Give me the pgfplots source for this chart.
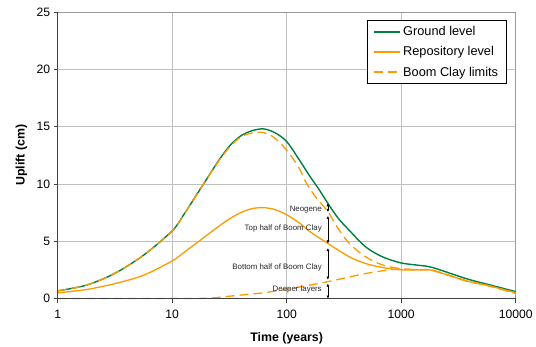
\documentclass[border=0pt]{standalone}
\usepackage{fontspec}
\setmainfont{Liberation Sans}
\usepackage{pgfplots}
\pgfplotsset{compat=1.18}
\usetikzlibrary{arrows.meta}
\definecolor{ground}{RGB}{0,128,64}
\definecolor{repo}{RGB}{255,153,0}
\definecolor{gridgray}{RGB}{192,192,192}
\definecolor{axdark}{RGB}{64,64,64}
\begin{document}
\begin{tikzpicture}
\begin{axis}[
  name=ax,
  scale only axis,
  width=458bp, height=286.5bp,
  xmode=log,
  xmin=1, xmax=10000, ymin=0, ymax=25,
  xtick={1,10,100,1000,10000},
  xticklabels={1,10,100,1000,10000},
  ytick={0,5,10,15,20,25},
  xminorticks=false, yminorticks=false,
  grid=major,
  major grid style={gridgray, line width=0.8bp},
  axis line style={draw=gridgray!80!black, line width=0.8bp},
  tick align=outside,
  xtick pos=bottom, ytick pos=left,
  major tick length=4bp,
  tick style={axdark, line width=0.8bp},
  /pgf/number format/assume math mode=true,
  tick label style={font=\fontsize{12.2}{14}\selectfont},
  xticklabel style={yshift=-4bp},
  label style={font=\bfseries\fontsize{12.4}{14}\selectfont},
  xlabel={Time (years)},
  ylabel={Uplift (cm)},
  xlabel style={at={(axis description cs:0.5,-0.14)}, anchor=center},
  ylabel style={at={(axis description cs:-0.079,0.5)}, anchor=center},
  clip=false,
  legend style={at={(0.98,0.972)}, anchor=north east, draw=black, line width=0.8bp,
    font=\fontsize{12.8}{14}\selectfont, row sep=5.5bp, inner xsep=6bp, inner ysep=4bp,
    cells={anchor=west}},
  legend image code/.code={\draw[#1] (0bp,0bp) -- (26bp,0bp);},
  legend image post style={line width=1.7bp},
]
\addplot[ground, line width=1.4bp, smooth] coordinates {
(1,0.67) (1.778,1.16) (3.162,2.2) (5.623,3.78) (10,5.9) (12.59,7.3) (15.85,8.85)
(19.95,10.4) (25.12,11.95) (31.62,13.3) (39.81,14.2) (50.12,14.65) (63.1,14.8)
(79.43,14.45) (100,13.7) (128.8,12.1) (158.5,10.7) (193.6,9.45) (229,8.3) (281.8,7.0)
(353.2,5.93) (489.8,4.5) (688.6,3.63) (1000,3.1) (1413,2.9) (1884,2.7) (3673,1.74)
(5623,1.25) (10000,0.6)};
\addlegendentry{Ground level}
\addplot[repo, line width=1.3bp, smooth] coordinates {
(1,0.49) (1.778,0.78) (3.162,1.3) (5.623,2.03) (10,3.28) (12.59,4.0) (15.85,4.75)
(19.95,5.5) (25.12,6.25) (31.62,6.95) (39.81,7.5) (50.12,7.85) (63.1,7.93) (79.43,7.75)
(100,7.3) (128.8,6.6) (158.5,5.85) (229,4.8) (353.2,3.63) (489.8,3.05) (688.6,2.7)
(1000,2.5) (1413,2.5) (1884,2.45) (3673,1.55) (5623,1.15) (10000,0.5)};
\addlegendentry{Repository level}
\addplot[repo, line width=1.3bp, dash pattern=on 9bp off 5bp, smooth] coordinates {
(1,0.67) (1.778,1.16) (3.162,2.2) (5.623,3.78) (10,5.9) (12.59,7.3) (15.85,8.85)
(19.95,10.4) (25.12,11.9) (31.62,13.2) (39.81,14.1) (50.12,14.45) (60.26,14.5)
(70.8,14.3) (85.1,13.7) (104.7,12.7) (128.8,11.36) (147.9,10.1) (177.8,8.9) (229,7.57)
(281.8,6.1) (353.2,4.8) (489.8,3.63) (688.6,2.92) (1000,2.6) (1413,2.5)
(1884,2.45) (3673,1.55) (5623,1.15) (10000,0.45)};
\addlegendentry{Boom Clay limits}
\addplot[repo, line width=1.3bp, dash pattern=on 9bp off 5bp, smooth, forget plot] coordinates {
(1,0) (10,0) (15.85,0) (22.4,0.05) (31.6,0.2) (44.7,0.35) (63.1,0.5) (100,0.8)
(128.8,1.0) (229,1.47) (489.8,2.18) (831.8,2.53) (1000,2.57) (1413,2.5) (1884,2.45)
(3673,1.55) (5623,1.15) (10000,0.45)};
% dark left and bottom axis lines
\draw[axdark, line width=1.2bp] (rel axis cs:0,1) -- (rel axis cs:0,0) -- (rel axis cs:1,0);
% annotation arrows
\begin{scope}[black, line width=0.5bp, >={Latex[length=3bp,width=3bp]}]
\draw[<->] (axis cs:229,8.3) -- (axis cs:229,7.55);
\draw[<->] (axis cs:229,7.2) -- (axis cs:229,4.8);
\draw[<->] (axis cs:229,4.4) -- (axis cs:229,1.65);
\draw[<->] (axis cs:229,1.3) -- (axis cs:229,0);
\end{scope}
\begin{scope}[every node/.style={anchor=east, inner sep=0pt, font=\fontsize{7.9}{9}\selectfont, text=black!85}]
\node at ([xshift=-6bp]axis cs:229,7.75) {Neogene};
\node at ([xshift=-6bp]axis cs:229,6.1) {Top half of Boom Clay};
\node at ([xshift=-6bp]axis cs:229,2.75) {Bottom half of Boom Clay};
\node at ([xshift=-6bp]axis cs:229,0.75) {Deeper layers};
\end{scope}
\end{axis}
\pgfresetboundingbox
\path[use as bounding box] (ax.south west) ++(-57.7bp,-48.5bp) rectangle ++(536bp,347bp);
\end{tikzpicture}
\end{document}
